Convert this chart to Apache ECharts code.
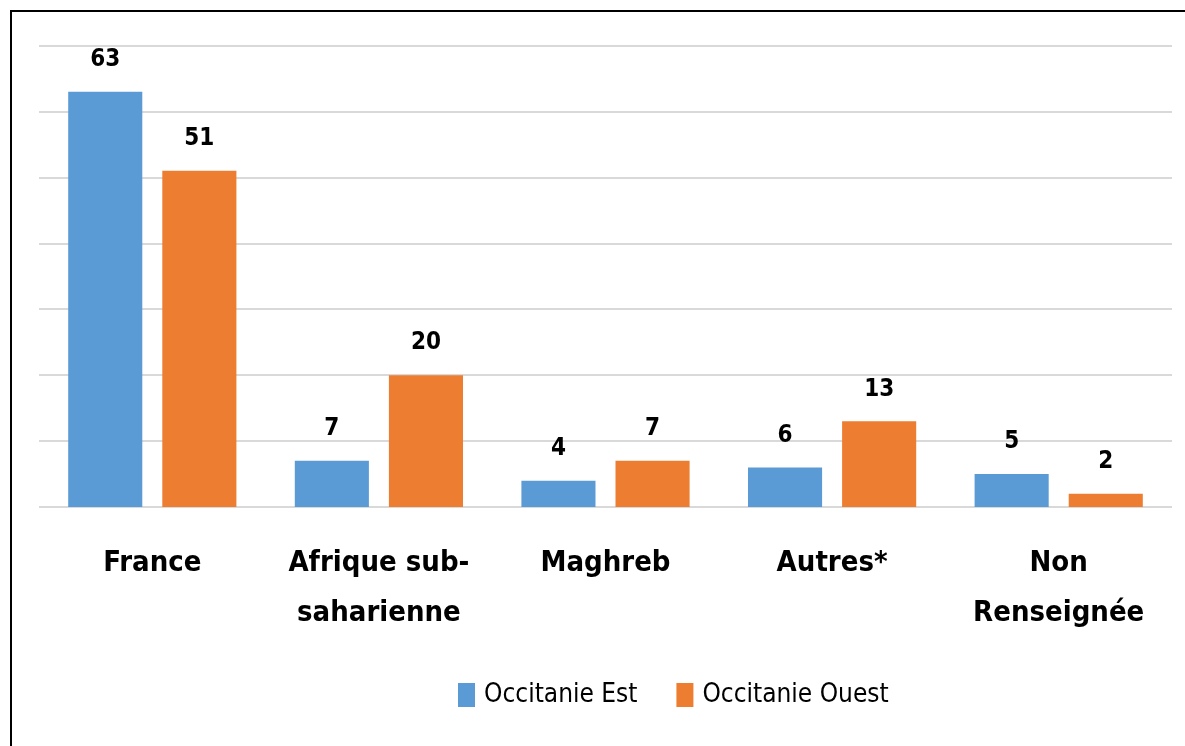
<!DOCTYPE html>
<html>
<head>
<meta charset="utf-8">
<script src="https://cdn.jsdelivr.net/npm/echarts@6/dist/echarts.min.js"></script>
<style>
  html, body { margin: 0; padding: 0; background: #fff; }
  #chart { width: 1185px; height: 746px; }
</style>
</head>
<body>
<div id="chart"></div>
<script>
const categories = ['France', 'Afrique sub-\nsaharienne', 'Maghreb', 'Autres*', 'Non\nRenseignée'];
const seriesNames = ['Occitanie Est', 'Occitanie Ouest'];
const estValues = [63, 7, 4, 6, 5];
const ouestValues = [51, 20, 7, 13, 2];

const FONT = '"DejaVu Sans Condensed", "Liberation Sans Narrow", "Liberation Sans", sans-serif';

const chart = echarts.init(document.getElementById('chart'), null, { renderer: 'canvas' });
chart.setOption({
  animation: false,
  backgroundColor: '#ffffff',
  color: ['#5B9BD5', '#ED7D31'],
  graphic: [{
    type: 'polyline',
    shape: { points: [[11, 760], [11, 11], [1200, 11]] },
    style: { stroke: '#000', lineWidth: 2, fill: null }
  }],
  grid: { left: 39, right: 13, top: 45.5, bottom: 239, containLabel: false },
  legend: {
    data: seriesNames,
    left: 458,
    top: 682,
    padding: 0,
    itemWidth: 17,
    itemHeight: 24,
    itemGap: 39,
    icon: 'rect',
    textStyle: { fontFamily: FONT, fontSize: 26, color: '#000', padding: [0, 0, 0, 4] }
  },
  xAxis: {
    type: 'category',
    data: categories,
    axisLine: { show: false },
    axisTick: { show: false },
    axisLabel: {
      interval: 0,
      margin: 31,
      fontFamily: FONT,
      fontSize: 29,
      fontWeight: 'bold',
      color: '#000',
      lineHeight: 50
    }
  },
  yAxis: {
    type: 'value',
    min: 0,
    max: 70,
    interval: 10,
    axisLabel: { show: false },
    axisLine: { show: false },
    axisTick: { show: false },
    splitLine: { lineStyle: { color: '#d9d9d9', width: 2 } }
  },
  series: [
    {
      name: seriesNames[0],
      type: 'bar',
      data: estValues,
      barWidth: '32.7%',
      barGap: '27%',
      label: { show: true, position: 'top', distance: 20, fontFamily: FONT, fontSize: 24, fontWeight: 'bold', color: '#000' }
    },
    {
      name: seriesNames[1],
      type: 'bar',
      data: ouestValues,
      barWidth: '32.7%',
      barGap: '27%',
      label: { show: true, position: 'top', distance: 20, fontFamily: FONT, fontSize: 24, fontWeight: 'bold', color: '#000' }
    }
  ]
});
</script>
</body>
</html>
